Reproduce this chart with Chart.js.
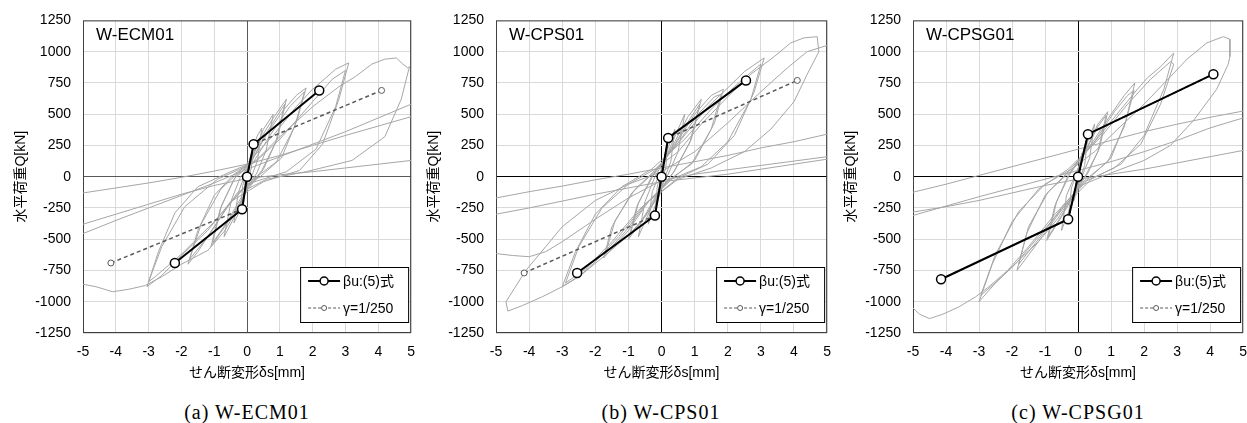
<!DOCTYPE html>
<html>
<head>
<meta charset="utf-8">
<script src="https://cdn.jsdelivr.net/npm/chart.js@4.4.1/dist/chart.umd.min.js"></script>
<style>
  body { margin: 0; background: #fff; width: 1247px; height: 423px; position: relative; overflow: hidden; }
  .panel { position: absolute; top: 0; }
  .cap { position: absolute; top: 401px; width: 300px; text-align: center;
         font: 20px "Liberation Serif", "Times New Roman", serif; letter-spacing: 1px; color: #000; }
</style>
</head>
<body>
<div class="panel" style="left:0px"><canvas id="c1" width="426" height="390"></canvas></div>
<div class="panel" style="left:413px"><canvas id="c2" width="429" height="390"></canvas></div>
<div class="panel" style="left:830px"><canvas id="c3" width="428" height="390"></canvas></div>
<div class="cap" style="left:97px">(a) W-ECM01</div>
<div class="cap" style="left:511px">(b) W-CPS01</div>
<div class="cap" style="left:928px">(c) W-CPSG01</div>
<script>
// tick values
const xTicks = [-5, -4, -3, -2, -1, 0, 1, 2, 3, 4, 5]
const yTicks = [-1250, -1000, -750, -500, -250, 0, 250, 500, 750, 1000, 1250]

// model lines [δs mm, Q kN]
const ecmBeta = [[-2.2, -690], [-0.15, -260], [0, 0], [0.2, 260], [2.2, 690]]
const ecmGamma = [[-4.15, -690], [-0.15, -260], [0, 0], [0.2, 260], [4.1, 690]]
const cpsBeta = [[-2.55, -770], [-0.2, -310], [0, 0], [0.2, 310], [2.55, 770]]
const cpsGamma = [[-4.15, -770], [-0.2, -310], [0, 0], [0.2, 310], [4.1, 770]]
const cpsgBeta = [[-4.15, -820], [-0.3, -340], [0, 0], [0.3, 340], [4.1, 820]]
const cpsgGamma = [[-4.15, -820], [-0.3, -340], [0, 0], [0.3, 340], [4.1, 820]]

const ecmLoop = [
  [0, 0], [0.05, 90], [0.1, 160], [0.06, 50], [0, -20], [-0.05, -90], [-0.1, -150], [-0.06, -40], [0, 20],
  [0.1, 140], [0.2, 260], [0.13, 70], [0.02, -40], [-0.1, -170], [-0.2, -260], [-0.13, -70], [-0.02, 40],
  [0.15, 190], [0.3, 320], [0.45, 390], [0.32, 130], [0.12, -10], [-0.1, -150], [-0.25, -290], [-0.4, -370], [-0.27, -130], [-0.05, 30],
  [0.2, 190], [0.5, 380], [0.8, 500], [0.58, 210], [0.3, 30], [0, -90], [-0.3, -280], [-0.7, -480], [-0.48, -190], [-0.2, 0], [0.05, 80],
  [0.4, 300], [0.8, 470], [1.2, 620], [0.92, 300], [0.5, 60], [0, -110], [-0.5, -330], [-1.1, -560], [-0.82, -260], [-0.4, -20], [0.1, 100],
  [0.5, 310], [0.9, 480], [1.15, 580], [0.88, 280], [0.45, 50], [-0.1, -130], [-0.6, -360], [-1.05, -530], [-0.78, -230], [-0.35, 0], [0.1, 110],
  [0.6, 340], [1.1, 530], [1.5, 650], [1.8, 710], [1.52, 450], [1.05, 150], [0.4, 0], [-0.3, -130], [-1.0, -400], [-1.5, -600], [-1.8, -700],
  [-1.5, -430], [-1.0, -150], [-0.4, 20], [0.2, 120],
  [0.7, 330], [1.3, 560], [1.75, 680], [1.45, 400], [0.9, 120], [0.2, -20], [-0.5, -200], [-1.2, -480], [-1.75, -660], [-1.4, -380],
  [-0.8, -100], [-0.2, 50],
  [0.8, 330], [1.5, 560], [2.0, 700], [2.4, 790], [2.7, 860], [3.1, 910], [2.8, 620], [2.3, 260], [1.6, 50], [0.5, -40],
  [-0.5, -200], [-1.2, -430], [-2.0, -630], [-2.6, -790], [-3.05, -880], [-2.7, -600], [-2.2, -290], [-1.5, -80], [-0.5, 40], [0.3, 130],
  [1.0, 300], [2.0, 600], [2.6, 780], [3.0, 850], [2.7, 560], [2.1, 220], [1.2, 40], [0, -60], [-1.0, -360], [-2.0, -620],
  [-2.8, -800], [-3.0, -840], [-2.6, -560], [-1.9, -240], [-0.9, -20], [0.2, 110],
  [1.0, 320], [2.0, 560], [2.8, 720], [3.3, 800], [3.8, 900], [4.2, 940], [4.55, 950], [4.75, 900], [4.9, 870], [4.95, 880],
  [4.7, 620], [4.2, 320], [3.2, 130], [1.8, 40], [0.6, -20], [0, -100], [-0.3, -260], [-0.7, -440], [-1.2, -590], [-2.0, -700],
  [-2.6, -800], [-3.1, -870], [-3.6, -900], [-4.1, -920], [-4.6, -880], [-5, -860], [-5.5, -880], [-5.8, -500], [-5.2, -470],
  [-5, -455], [-4, -350], [-3, -250], [-2, -150], [-1, -50], [0, 60], [1, 160], [2, 260], [3, 360], [4, 470], [5, 580],
  [5.6, 640], [6, 200], [5.5, 140],
  [5, 130], [4, 100], [3, 70], [2, 40], [1, 15], [0, -15], [-1, -70], [-2, -140], [-3, -220], [-4, -300], [-5, -380],
  [-5.6, -420], [-6, -150], [-5.5, -140],
  [-5, -130], [-4, -90], [-3, -50], [-2, -5], [-1, 45], [0, 100], [1, 170], [2, 250], [3, 330], [4, 405], [5, 480], [5.5, 520]
]

const cpsLoop = [
  [0, 0], [0.05, 100], [0.1, 180], [0.06, 50], [0, -30], [-0.05, -110], [-0.1, -180], [-0.06, -50], [0, 30],
  [0.1, 170], [0.2, 310], [0.13, 80], [0.02, -40], [-0.1, -180], [-0.2, -310], [-0.13, -80], [-0.02, 40],
  [0.2, 230], [0.4, 380], [0.28, 120], [0.08, -20], [-0.15, -200], [-0.4, -380], [-0.28, -120], [-0.05, 30],
  [0.3, 260], [0.7, 500], [0.5, 200], [0.2, 20], [-0.2, -180], [-0.7, -480], [-0.5, -200], [-0.2, 0],
  [0.4, 280], [0.8, 480], [1.2, 620], [0.9, 300], [0.4, 50], [0, -100], [-0.5, -320], [-1.0, -500], [-0.75, -240], [-0.3, 0],
  [0.4, 260], [0.85, 460], [1.15, 580], [0.85, 270], [0.35, 30], [-0.1, -120], [-0.55, -330], [-0.95, -470], [-0.7, -210], [-0.25, 10],
  [0.4, 250], [1.0, 500], [1.5, 650], [1.87, 700], [1.6, 430], [1.0, 130], [0.3, -20], [-0.4, -200], [-1.0, -430], [-1.75, -650],
  [-1.5, -400], [-0.9, -130], [-0.2, 40],
  [0.5, 270], [1.1, 500], [1.6, 640], [1.8, 660], [1.5, 380], [0.9, 100], [0.2, -30], [-0.5, -230], [-1.1, -440], [-1.7, -620],
  [-1.4, -350], [-0.8, -100], [-0.2, 50],
  [0.6, 300], [1.4, 560], [2.0, 710], [2.5, 840], [3.1, 950], [2.8, 680], [2.2, 330], [1.4, 100], [0.5, -10], [-0.5, -220],
  [-1.3, -480], [-2.0, -680], [-2.5, -800], [-3.0, -880], [-2.6, -600], [-2.0, -300], [-1.2, -80], [-0.3, 60],
  [0.7, 300], [1.5, 540], [2.2, 720], [2.9, 880], [3.0, 900], [2.7, 620], [2.0, 280], [1.2, 80], [0.3, -20], [-0.7, -270],
  [-1.5, -520], [-2.3, -740], [-2.9, -850], [-2.5, -560], [-1.8, -250], [-1.0, -60], [-0.2, 60],
  [0.5, 200], [1.2, 420], [2.0, 640], [2.7, 820], [3.4, 960], [3.9, 1070], [4.3, 1110], [4.7, 1120], [4.75, 1000], [4.4, 820],
  [4.0, 600], [3.3, 380], [2.5, 200], [1.5, 70], [0.5, -20], [0, -120],
  [-0.5, -320], [-1.0, -470], [-1.8, -650], [-2.4, -780], [-3.0, -880], [-3.6, -960], [-4.2, -1030], [-4.64, -1075], [-4.7, -1000],
  [-4.1, -750], [-3.5, -560], [-3.0, -400], [-2.0, -190], [-1.0, -60], [0, 40],
  [1.0, 200], [2.0, 430], [3.0, 680], [3.8, 870], [4.4, 1000], [5, 1050], [5.3, 1100], [5.6, 400],
  [5, 340], [4, 280], [3, 230], [2, 170], [1, 120], [0, 70], [-1, 20], [-2, -25], [-3, -75], [-4, -120], [-5, -170],
  [-5.5, -200], [-5.8, -700], [-5.3, -640],
  [-5, -615], [-4.5, -630], [-4, -640], [-3.5, -600], [-3, -520], [-2, -340], [-1, -170], [0, -30], [1, 20], [2, 55], [3, 90],
  [4, 125], [5, 160], [5.5, 175], [5.8, -100], [5.5, -120],
  [5, 140], [4, 100], [3, 60], [2, 20], [1, -10], [0, -40], [-1, -90], [-2, -140], [-3, -195], [-4, -250], [-5, -300], [-5.5, -330]
]

const cpsgLoop = [
  [0, 0], [0.05, 100], [0.12, 190], [0.07, 50], [0, -30], [-0.05, -110], [-0.12, -190], [-0.07, -50], [0, 30],
  [0.15, 200], [0.3, 340], [0.2, 90], [0.03, -40], [-0.15, -200], [-0.3, -340], [-0.2, -90], [-0.03, 40],
  [0.2, 220], [0.5, 420], [0.35, 150], [0.1, -10], [-0.2, -220], [-0.5, -430], [-0.35, -150], [-0.08, 20],
  [0.3, 250], [0.6, 420], [0.9, 520], [0.65, 230], [0.3, 30], [0, -90], [-0.5, -320], [-0.95, -510], [-0.7, -230], [-0.3, 10],
  [0.3, 240], [0.6, 400], [0.85, 490], [0.6, 200], [0.25, 20], [-0.05, -100], [-0.5, -310], [-0.9, -480], [-0.65, -200], [-0.25, 20],
  [0.5, 300], [1.0, 500], [1.4, 650], [1.72, 750], [1.45, 450], [1.0, 150], [0.3, -20], [-0.4, -230], [-1.2, -520], [-1.85, -750],
  [-1.55, -450], [-1.0, -150], [-0.3, 40],
  [0.5, 280], [1.1, 520], [1.5, 650], [1.7, 690], [1.4, 400], [0.9, 120], [0.2, -30], [-0.5, -250], [-1.2, -500], [-1.8, -700],
  [-1.5, -400], [-0.9, -120], [-0.2, 50],
  [0.6, 310], [1.3, 540], [1.8, 700], [2.1, 790], [2.5, 880], [2.9, 990], [2.6, 700], [2.0, 330], [1.3, 100], [0.4, -20],
  [-0.5, -260], [-1.2, -480], [-1.9, -700], [-2.5, -850], [-3.0, -1000], [-2.6, -700], [-2.0, -360], [-1.2, -100], [-0.3, 60],
  [0.7, 320], [1.5, 580], [2.2, 780], [2.8, 920], [2.9, 900], [2.5, 580], [1.9, 260], [1.1, 70], [0.2, -40], [-0.7, -300],
  [-1.5, -560], [-2.3, -800], [-2.95, -950], [-2.5, -620], [-1.8, -280], [-1.0, -60], [-0.2, 60],
  [0.5, 200], [1.2, 380], [2.0, 580], [2.8, 800], [3.3, 940], [3.9, 1070], [4.4, 1120], [4.6, 1100], [4.6, 960], [4.55, 900],
  [4.2, 700], [3.5, 450], [2.8, 250], [2.0, 130], [1.0, 30], [0, -80],
  [-0.6, -330], [-1.2, -520], [-2.0, -720], [-2.7, -880], [-3.1, -960], [-3.6, -1040], [-4.1, -1100], [-4.5, -1135], [-4.8, -1100],
  [-5, -1050], [-5.4, -980], [-5.7, -600], [-5.3, -320],
  [-5, -310], [-4, -235], [-3, -160], [-2, -90], [-1, -20], [0, 50], [1, 120], [2, 200], [3, 290], [4, 390], [5, 470], [5.5, 500],
  [5.8, 200], [5.5, 215],
  [5, 210], [4, 160], [3, 110], [2, 60], [1, 20], [0, -20], [-1, -70], [-2, -130], [-3, -190], [-4, -240], [-5, -283], [-5.5, -300],
  [-5.8, -200], [-5.5, -150],
  [-5, -124], [-4, -60], [-3, 10], [-2, 80], [-1, 150], [0, 220], [1, 290], [2, 360], [3, 420], [4, 475], [5, 525], [5.5, 540]
]

Chart.defaults.font.family = '"Liberation Sans", Arial, "Noto Sans CJK JP", sans-serif'
Chart.defaults.color = '#000'

const toXY = pts => pts.map(p => ({ x: p[0], y: p[1] }))

// frame, panel name and the boxed legend inside the plot
const panelDecor = {
  id: 'panelDecor',
  beforeDatasetsDraw (chart, args, opts) {
    const a = chart.chartArea
    const ctx = chart.ctx
    ctx.save()
    ctx.strokeStyle = '#404040'
    ctx.lineWidth = 1
    ctx.strokeRect(a.left + 0.5, a.top + 0.5, a.right - a.left - 1, a.bottom - a.top - 1)
    ctx.restore()
  },
  afterDraw (chart, args, opts) {
    const a = chart.chartArea
    const ctx = chart.ctx
    ctx.save()
    ctx.fillStyle = '#000'
    ctx.font = '17px "Liberation Sans", Arial, sans-serif'
    ctx.textBaseline = 'alphabetic'
    ctx.fillText(opts.name, a.left + 13, a.top + 20)

    const w = 108
    const h = 55
    const bx = a.right - 3 - w
    const by = a.bottom - 11 - h
    ctx.fillStyle = '#fff'
    ctx.fillRect(bx, by, w, h)
    ctx.strokeStyle = '#000'
    ctx.lineWidth = 1
    ctx.strokeRect(bx + 0.5, by + 0.5, w, h)

    const rows = [
      { y: by + 14, text: 'βu:(5)式', color: '#000', width: 2, dash: [], r: 4 },
      { y: by + 41, text: 'γ=1/250', color: '#595959', width: 1, dash: [3, 2], r: 2.5 }
    ]
    rows.forEach(r => {
      ctx.strokeStyle = r.color
      ctx.lineWidth = r.width
      ctx.setLineDash(r.dash)
      ctx.beginPath()
      ctx.moveTo(bx + 8, r.y)
      ctx.lineTo(bx + 40, r.y)
      ctx.stroke()
      ctx.setLineDash([])
      ctx.fillStyle = '#fff'
      ctx.lineWidth = r.width === 2 ? 1.5 : 1
      ctx.beginPath()
      ctx.arc(bx + 24, r.y, r.r, 0, Math.PI * 2)
      ctx.fill()
      ctx.stroke()
      ctx.fillStyle = '#000'
      ctx.font = '14px "Liberation Sans", Arial, "Noto Sans CJK JP", sans-serif'
      ctx.textBaseline = 'middle'
      ctx.fillText(r.text, bx + 43, r.y + 1)
    })
    ctx.restore()
  }
}

function drawPanel (id, name, loop, beta, gamma, zeroColor) {
  new Chart(document.getElementById(id), {
    type: 'scatter',
    data: {
      datasets: [
        {
          label: 'loop',
          data: toXY(loop),
          showLine: true,
          borderColor: '#a6a6a6',
          borderWidth: 1,
          pointRadius: 0,
          clip: 0,
          order: 3
        },
        {
          label: 'γ=1/250',
          data: toXY(gamma),
          showLine: true,
          borderColor: '#595959',
          borderWidth: 1.5,
          borderDash: [4, 3],
          pointRadius: 3,
          pointBackgroundColor: '#fff',
          pointBorderColor: '#595959',
          pointBorderWidth: 1,
          order: 2
        },
        {
          label: 'βu:(5)式',
          data: toXY(beta),
          showLine: true,
          borderColor: '#000',
          borderWidth: 2,
          pointRadius: 4.5,
          pointBackgroundColor: '#fff',
          pointBorderColor: '#000',
          pointBorderWidth: 1.5,
          order: 1
        }
      ]
    },
    options: {
      responsive: false,
      animation: false,
      layout: { padding: { top: 18, right: 4 } },
      plugins: {
        legend: { display: false },
        tooltip: { enabled: false },
        panelDecor: { name: name }
      },
      scales: {
        x: {
          type: 'linear',
          min: -5,
          max: 5,
          afterBuildTicks: s => { s.ticks = xTicks.map(v => ({ value: v })) },
          afterFit: s => { s.height = 57 },
          ticks: { font: { size: 14 }, padding: 11, maxRotation: 0, callback: v => String(v) },
          grid: {
            drawTicks: false,
            color: c => (c.tick && c.tick.value === 0 ? zeroColor : '#d9d9d9')
          },
          border: { display: false },
          title: { display: true, text: 'せん断変形δs[mm]', font: { size: 14 }, padding: { bottom: 8 } }
        },
        y: {
          min: -1250,
          max: 1250,
          afterBuildTicks: s => { s.ticks = yTicks.map(v => ({ value: v })) },
          afterFit: s => { s.width = 83 },
          ticks: { font: { size: 14 }, padding: 12, callback: v => String(v) },
          grid: {
            drawTicks: false,
            color: c => (c.tick && c.tick.value === 0 ? zeroColor : '#d9d9d9')
          },
          border: { display: false },
          title: { display: true, text: '水平荷重Q[kN]', font: { size: 14 }, padding: { top: 13 } }
        }
      }
    },
    plugins: [panelDecor]
  })
}

drawPanel('c1', 'W-ECM01', ecmLoop, ecmBeta, ecmGamma, '#595959')
drawPanel('c2', 'W-CPS01', cpsLoop, cpsBeta, cpsGamma, '#000')
drawPanel('c3', 'W-CPSG01', cpsgLoop, cpsgBeta, cpsgGamma, '#000')
</script>
</body>
</html>
